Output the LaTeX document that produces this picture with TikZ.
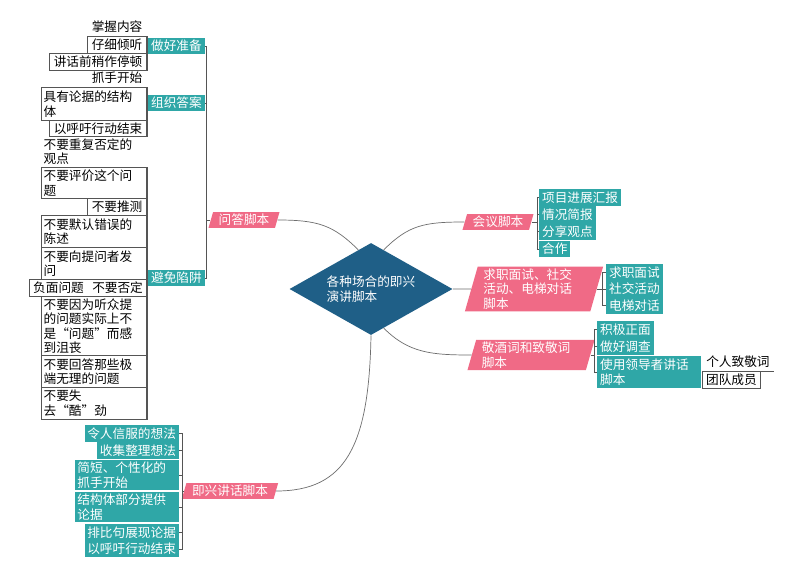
\documentclass[tikz,border=0pt]{standalone}
\usepackage{fontspec}
\setmainfont{Noto Sans CJK SC}
\usepackage{tikz}
\usetikzlibrary{shapes.geometric}

\definecolor{hubblue}{HTML}{1F5F87}
\definecolor{topicpink}{HTML}{F06A86}
\definecolor{subteal}{HTML}{2FA7A7}
\definecolor{linegray}{HTML}{555555}
\definecolor{curvegray}{HTML}{6E6E6E}

\begin{document}
\begin{tikzpicture}[x=0.025cm, y=-0.025cm,
  hub/.style={diamond, fill=hubblue, text=white, align=left, aspect=1.77, inner sep=0pt,
    minimum width=4.075cm, minimum height=2.3cm, font=\fontsize{9}{10.3}\selectfont},
  topic/.style={trapezium, trapezium left angle=74, trapezium right angle=106, fill=topicpink,
    text=white, align=left, inner xsep=4pt, inner ysep=1.5pt, font=\fontsize{9}{10.3}\selectfont},
  sub/.style={fill=subteal, text=white, align=left, inner xsep=2pt, inner ysep=1pt,
    minimum height=0.41cm, font=\fontsize{9}{10.3}\selectfont},
  leaf/.style={draw=linegray, line width=0.6pt, align=left, inner xsep=1.5pt, inner ysep=1pt,
    minimum height=0.425cm, font=\fontsize{9}{10.3}\selectfont},
  leaffirst/.style={leaf, draw=none},
  link/.style={draw=curvegray, line width=0.5pt},
  brk/.style={draw=linegray, line width=0.6pt}
]
\fill[white] (0,0) rectangle (800,578);
\useasboundingbox (0,0) rectangle (800,578);

% Centre
\node[hub] (hub) at (371,289) {各种场合的即兴\\演讲脚本};

% Main topics
\node[topic] (qa)    at (244,220) {问答脚本};
\node[topic] (ix)    at (230,491) {即兴讲话脚本};
\node[topic] (mt)    at (498,222) {会议脚本};
\node[topic, text width=72pt] (job)   at (534,289) {求职面试、社交\\活动、电梯对话\\脚本};
\node[topic, text width=70pt] (toast) at (531,355) {敬酒词和致敬词\\脚本};

% Centre -> topics
\draw[link] (hub.108) .. controls +(-25,-25) and +(40,0) .. (qa.east);
\draw[link] (hub.72) .. controls +(25,-25) and +(-40,0) .. (mt.west);
\draw[link] (hub.east) -- (job.west);
\draw[link] (hub.-72) .. controls +(25,25) and +(-40,0) .. (toast.west);
\draw[link] (hub.south) .. controls +(-2,110) and +(70,0) .. (ix.east);

% Q&A: sub topics
\node[sub, anchor=west] (prep) at (148,46)  {做好准备};
\node[sub, anchor=west] (org)  at (148,103) {组织答案};
\node[sub, anchor=west] (trap) at (148,278) {避免陷阱};

\draw[brk] (prep.east) -- ++(2,0) coordinate (qab) |- (trap.east);
\draw[brk] (org.east) -- (org.east -| qab);
\draw[brk] (qa.west) -- (qa.west -| qab);

% Q&A: leaves of prep
\node[leaffirst, anchor=south east, minimum width=1.475cm] (w1) at (147,36) {掌握内容};
\node[leaf, anchor=north east, minimum width=1.475cm] (w2) at (147,36) {仔细倾听};
\node[leaf, anchor=north east, minimum width=2.425cm] (w3) at (147,53) {讲话前稍作停顿};
\draw[brk] (w1.south west) -- (w1.south east) -- (w3.south east);
\draw[brk] (prep.west) -- (prep.west -| w1.east);

% Q&A: leaves of org
\node[leaffirst, anchor=south east, minimum width=1.475cm] (o1) at (147,87) {抓手开始};
\node[leaf, anchor=north east, text width=2.52cm, minimum height=0.825cm] (o2) at (147,87) {具有论据的结构\\体};
\node[leaf, anchor=north east, minimum width=2.425cm, minimum height=0.4cm] (o3) at (147,120) {以呼吁行动结束};
\draw[brk] (o1.south west) -- (o1.south east) -- (o3.south east);
\draw[brk] (org.west) -- (org.west -| o1.east);

% Q&A: leaves of trap
\node[leaffirst, anchor=south east, text width=2.52cm, minimum height=0.75cm] (t1) at (147,167) {不要重复否定的\\观点};
\node[leaf, anchor=north east, text width=2.52cm, minimum height=0.775cm] (t2) at (147,167) {不要评价这个问\\题};
\node[leaf, anchor=north east, minimum width=1.475cm] (t3) at (147,198) {不要推测};
\node[leaf, anchor=north east, text width=2.52cm, minimum height=0.8cm] (t4) at (147,215) {不要默认错误的\\陈述};
\node[leaf, anchor=north east, text width=2.52cm, minimum height=0.8cm] (t5) at (147,247) {不要向提问者发\\问};
\node[leaf, anchor=north east, minimum width=2.925cm] (t6) at (147,279) {负面问题\hspace{6pt}不要否定};
\node[leaf, anchor=north east, text width=2.52cm, minimum height=1.475cm] (t7) at (147,296) {不要因为听众提\\的问题实际上不\\是“问题”而感\\到沮丧};
\node[leaf, anchor=north east, text width=2.52cm, minimum height=0.8cm] (t8) at (147,355) {不要回答那些极\\端无理的问题};
\node[leaf, anchor=north east, text width=2.52cm, minimum height=0.8cm] (t9) at (147,387) {不要失\\去“酷”劲};
\draw[brk] (t1.south west) -- (t1.south east) -- (t9.south east);
\draw[brk] (trap.west) -- (trap.west -| t1.east);

% Impromptu speech
\node[sub, anchor=north east] (i1) at (179,425) {令人信服的想法};
\node[sub, anchor=north east] (i2) at (179,442) {收集整理想法};
\node[sub, anchor=north east, text width=2.46cm, minimum height=0.75cm] (i3) at (179,460) {简短、个性化的\\抓手开始};
\node[sub, anchor=north east, text width=2.46cm, minimum height=0.75cm] (i4) at (179,492) {结构体部分提供\\论据};
\node[sub, anchor=north east] (i5) at (179,524) {排比句展现论据};
\node[sub, anchor=north east] (i6) at (179,540.5) {以呼吁行动结束};

\draw[brk] (i1.east) -- ++(3,0) coordinate (ixb) |- (i6.east);
\foreach \n in {i2,i3,i4,i5}
  \draw[brk] (\n.east) -- (\n.east -| ixb);
\draw[brk] (ix.west) -- (ix.west -| ixb);

% Meeting
\node[sub, anchor=north west] (m1) at (539,189) {项目进展汇报};
\node[sub, anchor=north west] (m2) at (539,206) {情况简报};
\node[sub, anchor=north west] (m3) at (539,223) {分享观点};
\node[sub, anchor=north west] (m4) at (539,240.5) {合作};

\draw[brk] (m1.west) -- ++(-2,0) coordinate (mtb) |- (m4.west);
\foreach \n in {m2,m3}
  \draw[brk] (\n.west) -- (\n.west -| mtb);
\draw[brk] (mt.east) -- (mt.east -| mtb);

% Interview, social, elevator
\node[sub, anchor=north west] (j1) at (606,264) {求职面试};
\node[sub, anchor=north west] (j2) at (606,280.5) {社交活动};
\node[sub, anchor=north west] (j3) at (606,297) {电梯对话};

\draw[brk] (j1.west) -- ++(-4,0) coordinate (jb) |- (j3.west);
\draw[brk] (j2.west) -- (j2.west -| jb);
\draw[brk] (job.east) -- (job.east -| jb);

% Toast
\node[sub, anchor=north west] (k1) at (597,321) {积极正面};
\node[sub, anchor=north west] (k2) at (597,338) {做好调查};
\node[sub, anchor=north west, text width=2.46cm, minimum height=0.8cm] (lead) at (597,356) {使用领导者讲话\\脚本};

\draw[brk] (k1.west) -- ++(-3,0) coordinate (kb) |- (lead.west);
\draw[brk] (k2.west) -- (k2.west -| kb);
\draw[brk] (toast.east) -- (toast.east -| kb);

% Leader script leaves
\node[leaffirst, anchor=south west, minimum width=1.775cm] (s1) at (702,371) {个人致敬词};
\node[leaf, anchor=north west, minimum width=1.45cm] (s2) at (702,371) {团队成员};
\draw[brk] (s1.south east) -- (s1.south west) -- (s2.south west);
\draw[brk] (lead.east) -- (lead.east -| s1.west);

\end{tikzpicture}
\end{document}
